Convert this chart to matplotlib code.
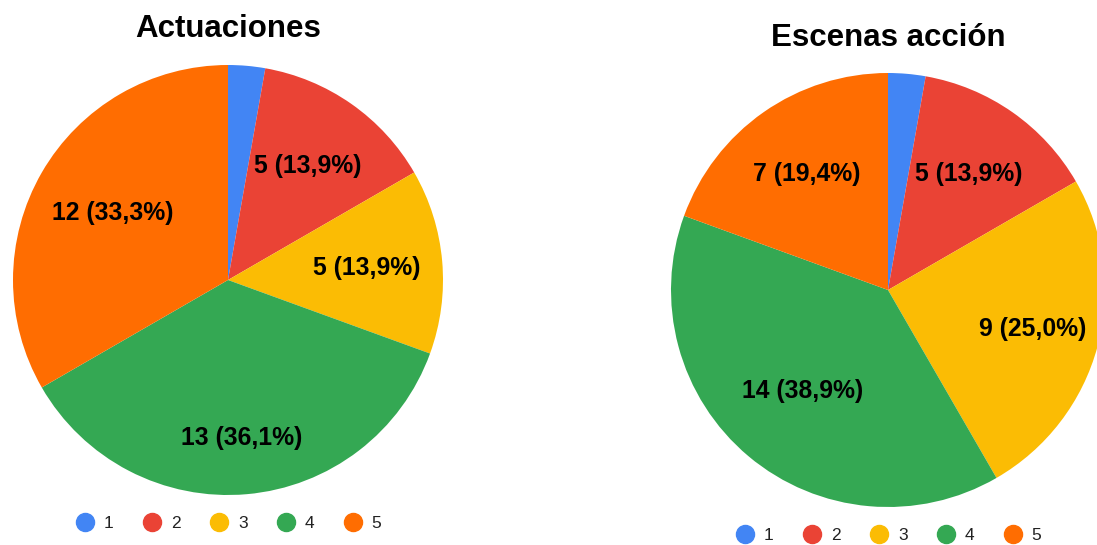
import matplotlib.pyplot as plt
from matplotlib.lines import Line2D

plt.rcParams['font.family'] = ['Liberation Sans', 'DejaVu Sans']

categories = ['1', '2', '3', '4', '5']
actuaciones = [1, 5, 5, 13, 12]
escenas = [1, 5, 9, 14, 7]
colors = ['#4285F4', '#EA4335', '#FBBC04', '#34A853', '#FF6D01']

W, H = 1097, 545
fig = plt.figure(figsize=(W / 100, H / 100), dpi=100)


def fmt(values):
    total = sum(values)

    def f(pct):
        n = round(pct * total / 100)
        if n / total < 0.05:
            return ''
        return '{} ({:.1f}%)'.format(n, pct).replace('.', ',')
    return f


def draw_pie(values, title, cx, cy, r, dists, title_y, legend_y):
    ax = fig.add_axes([(cx - r) / W, (H - cy - r) / H, 2 * r / W, 2 * r / H])
    wedges, texts, autotexts = ax.pie(
        values, colors=colors, startangle=90, counterclock=False,
        autopct=fmt(values), pctdistance=0.65,
        wedgeprops=dict(linewidth=0, antialiased=True),
        textprops=dict(fontsize=17.8, fontweight='bold', color='black'))
    for t, d in zip(autotexts, dists):
        x, y = t.get_position()
        t.set_position((x / 0.65 * d, y / 0.65 * d))
    ax.set_xlim(-1, 1)
    ax.set_ylim(-1, 1)
    ax.axis('off')
    fig.text(cx / W, 1 - title_y / H, title, ha='center', va='center',
             fontsize=22.5, fontweight='bold')
    handles = [Line2D([], [], marker='o', linestyle='', markersize=13,
                      markerfacecolor=c, markeredgecolor=c) for c in colors]
    fig.legend(handles, categories, loc='center', ncol=5, frameon=False,
               bbox_to_anchor=(cx / W, 1 - legend_y / H), fontsize=12.5,
               labelcolor='#222222', handletextpad=0.5, columnspacing=1.6,
               handlelength=1.2)


draw_pie(actuaciones, 'Actuaciones', 228, 280, 215,
         [0.65, 0.65, 0.65, 0.74, 0.62], 29, 523)
draw_pie(escenas, 'Escenas acción', 888, 290, 217,
         [0.65, 0.65, 0.69, 0.61, 0.65], 38, 535)

fig.savefig('out.png', dpi=100)
